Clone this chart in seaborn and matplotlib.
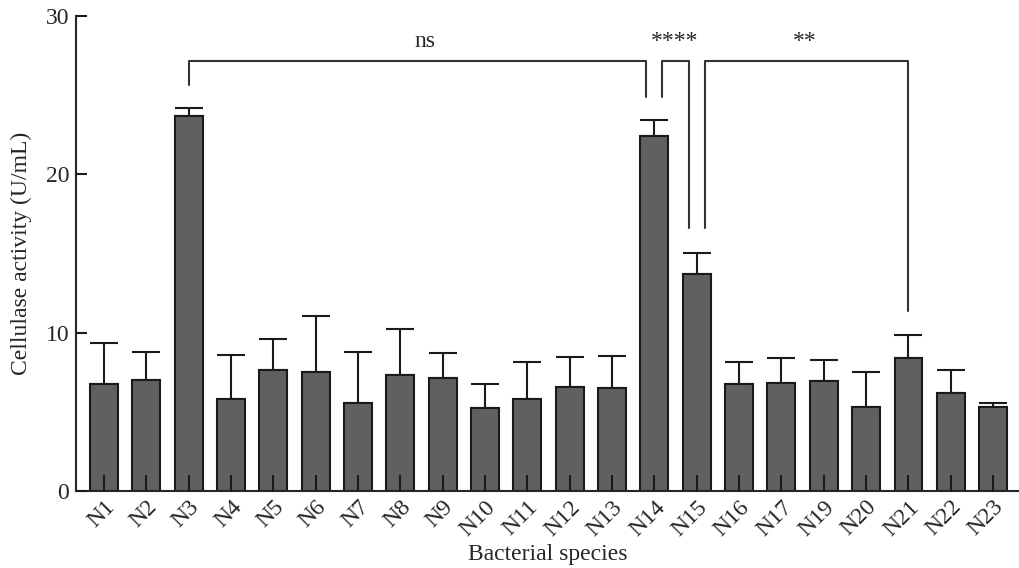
import numpy as np
import pandas as pd
import matplotlib.pyplot as plt
import seaborn as sns

# bar data (N18 is not in the chart)
species = ['N1', 'N2', 'N3', 'N4', 'N5', 'N6', 'N7', 'N8', 'N9', 'N10', 'N11', 'N12',
           'N13', 'N14', 'N15', 'N16', 'N17', 'N19', 'N20', 'N21', 'N22', 'N23']
activity = [6.74, 7.03, 23.69, 5.83, 7.66, 7.54, 5.58, 7.33, 7.14, 5.26, 5.79, 6.55,
            6.49, 22.45, 13.72, 6.74, 6.84, 6.97, 5.31, 8.38, 6.19, 5.33]
err = [2.63, 1.75, 0.48, 2.76, 1.96, 3.54, 3.22, 2.9, 1.6, 1.52, 2.36, 1.9,
       2.06, 1.01, 1.32, 1.41, 1.56, 1.29, 2.23, 1.49, 1.43, 0.23]

df = pd.DataFrame({'species': species, 'activity': activity, 'err': err})

sns.set_style('ticks')
plt.rcParams['font.family'] = ['Liberation Serif', 'DejaVu Serif']

fig = plt.figure(figsize=(10.19, 5.68), dpi=100)
ax = fig.add_axes([0.0746, 0.1356, 0.9254, 0.8362])

sns.barplot(data=df, x='species', y='activity', color='#606060', saturation=1,
            width=0.66, edgecolor='#1a1a1a', linewidth=1.5, errorbar=None, ax=ax)
x = np.arange(len(species))
# upper error bars only, hidden behind the bars
ax.errorbar(x, df.activity, yerr=[np.zeros(len(err)), df.err], fmt='none',
            ecolor='#1a1a1a', elinewidth=1.5, capsize=10, capthick=1.5, zorder=0.5)

ax.set_xlim(-0.66, 21.61)
ax.set_ylim(0, 30)
ax.set_yticks([0, 10, 20, 30])
sns.despine(ax=ax)
ax.set_axisbelow(False)
ax.spines['left'].set_linewidth(1.5)
ax.spines['bottom'].set_linewidth(1.5)
ax.tick_params(axis='x', bottom=True, direction='in', length=11.5, width=1.5,
               color='#1a1a1a', labelsize=17, pad=4)
ax.tick_params(axis='y', left=True, direction='in', length=8, width=1.5,
               color='#1a1a1a', labelsize=17, pad=5)
for lab in ax.get_xticklabels():
    lab.set_rotation(45)
    lab.set_ha('right')
    lab.set_rotation_mode('anchor')
ax.set_xlabel('Bacterial species', fontsize=17, labelpad=3)
ax.set_ylabel('Cellulase activity (U/mL)', fontsize=17, labelpad=10)

# significance brackets
lc = '#333333'
def bracket(x1, x2, y1, y2, h, txt, tx):
    ax.plot([x1, x1, x2, x2], [y1, h, h, y2], color=lc, lw=1.5, clip_on=False)
    ax.text(tx, 28.07, txt, ha='center', va='baseline', fontsize=17)

bracket(2, 12.81, 25.65, 24.9, 27.15, 'ns', 7.58)
bracket(13.19, 13.81, 24.9, 16.6, 27.15, '****', 13.47)
bracket(14.19, 19, 16.6, 11.39, 27.15, '**', 16.56)

fig.savefig('out.png', dpi=100)
